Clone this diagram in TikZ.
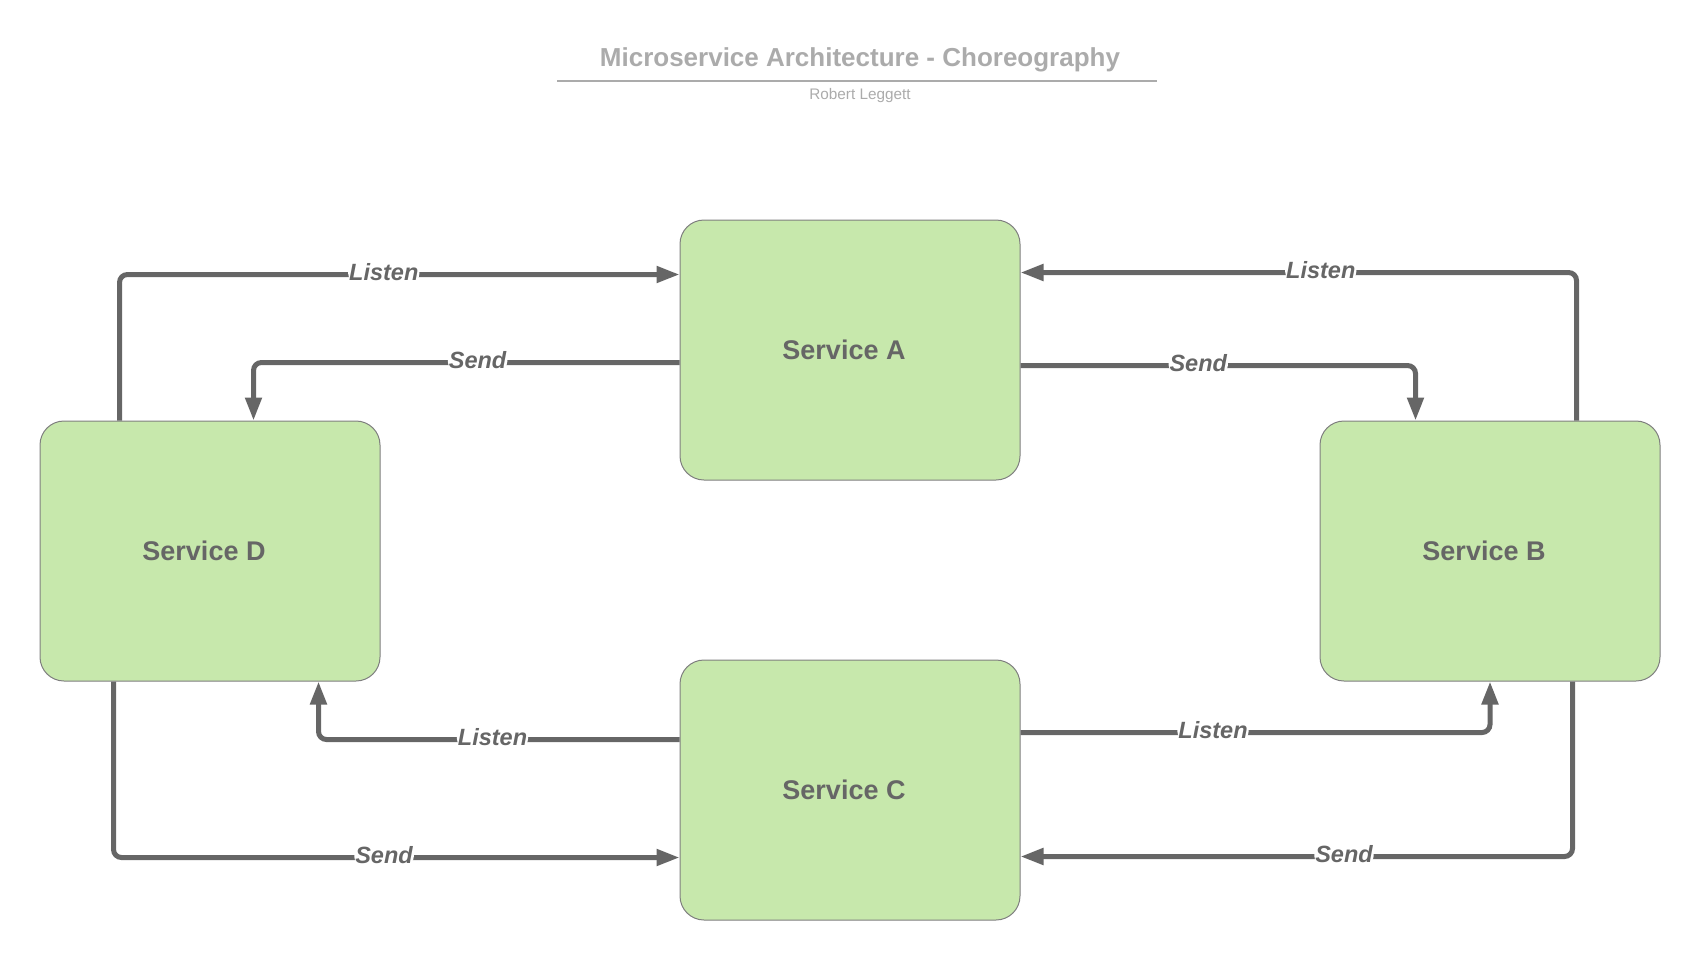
\documentclass[tikz,border=0pt]{standalone}
\usepackage{fontspec}
\setmainfont{Liberation Sans}
\usetikzlibrary{arrows.meta}

\definecolor{boxgreen}{HTML}{C7E8AC}
\definecolor{boxedge}{HTML}{7F7F7F}
\definecolor{linegray}{HTML}{666666}
\definecolor{titlegray}{HTML}{ABABAB}

\tikzset{
  service/.style={draw=boxedge, line width=1pt, fill=boxgreen, rounded corners=24pt,
    minimum width=340pt, minimum height=260pt, text=linegray,
    font=\fontsize{27}{32}\selectfont\bfseries,
    execute at begin node={\hspace*{-12pt}}},
  flow/.style={draw=linegray, line width=5pt, rounded corners=8pt,
    -{Triangle[length=23pt,width=16pt]}},
  lbl/.style={fill=white, inner sep=1pt, text=linegray, yshift=2.5pt,
    font=\fontsize{23.5}{28}\selectfont\bfseries\itshape},
  heading/.style={anchor=base, text=titlegray, font=\fontsize{26}{31}\selectfont\bfseries},
  byline/.style={anchor=base, text=titlegray, font=\fontsize{15.3}{18}\selectfont}
}

\begin{document}
\begin{tikzpicture}[x=1pt,y=-1pt]
	\useasboundingbox (0,0) rectangle (1700,961);
	% title
	\node[heading] (title) at (860,66) {Microservice Architecture - Choreography};
	\draw[titlegray, line width=2pt] (557,81) -- (1157,81);
	\node[byline] (author) at (860,99) {Robert Leggett};
	% services
	\node[service] (A) at (850,350) {Service A};
	\node[service] (B) at (1490,551) {Service B};
	\node[service] (C) at (850,790) {Service C};
	\node[service] (D) at (210,551) {Service D};
	% A and D
	\draw[flow] ([xshift=80pt]D.north west) |- node[lbl,pos=0.736] {Listen} ([yshift=-55pt]A.north west);
	\draw[flow] ([yshift=-143pt]A.north west) -| node[lbl,pos=0.237] {Send} ([xshift=214pt]D.north west);
	% A and B
	\draw[flow] ([xshift=257pt]B.north west) |- node[lbl,pos=0.730] {Listen} ([yshift=-53pt]A.north east);
	\draw[flow] ([yshift=-146pt]A.north east) -| node[lbl,pos=0.225] {Send} ([xshift=96pt]B.north west);
	% C and D
	\draw[flow] ([yshift=-80pt]C.north west) -| node[lbl,pos=0.259] {Listen} ([xshift=279pt]D.south west);
	\draw[flow] ([xshift=74pt]D.south west) |- node[lbl,pos=0.739] {Send} ([yshift=-198pt]C.north west);
	% C and B
	\draw[flow] ([yshift=-73pt]C.north east) -| node[lbl,pos=0.205] {Listen} (B.south);
	\draw[flow] ([xshift=253pt]B.south west) |- node[lbl,pos=0.707] {Send} ([yshift=-197pt]C.north east);
\end{tikzpicture}
\end{document}
